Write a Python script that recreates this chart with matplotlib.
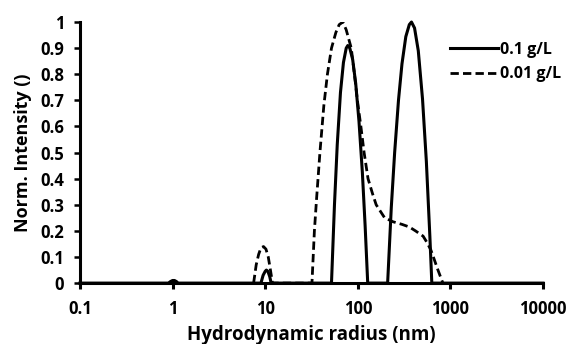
import numpy as np
import matplotlib as mpl
mpl.use('Agg')
import matplotlib.pyplot as plt

# radius (nm) and normalised intensity for 0.1 g/L (solid)
r_01 = [0.1, 0.25, 0.9, 0.95, 1.0, 1.05, 1.1, 1.15, 9.0, 9.5, 10.0, 10.3, 10.7, 11.2, 11.6,
        52, 56, 60, 65, 70, 75, 78, 82, 88, 95, 103, 112, 120, 128,
        210, 230, 250, 275, 300, 330, 360, 380, 410, 450, 500, 550, 600, 630, 10000]
i_01 = [0, 0, 0, 0.006, 0.01, 0.01, 0.006, 0, 0, 0.03, 0.045, 0.05, 0.045, 0.025, 0,
        0, 0.30, 0.53, 0.73, 0.845, 0.90, 0.91, 0.90, 0.857, 0.764, 0.62, 0.425, 0.22, 0,
        0, 0.29, 0.50, 0.70, 0.84, 0.944, 0.99, 1.0, 0.977, 0.89, 0.705, 0.466, 0.18, 0, 0]

# radius (nm) and normalised intensity for 0.01 g/L (dashed)
r_001 = [7.5, 8.0, 8.5, 9.0, 9.6, 10.2, 10.8, 11.4, 12.0,
         32, 34, 36, 39, 43, 47, 52, 58, 63, 69, 75, 85, 92, 99, 108, 117, 129, 145, 158,
         195, 240, 300, 360, 420, 507, 560, 615, 670, 725, 780, 830]
i_001 = [0, 0.07, 0.11, 0.135, 0.14, 0.13, 0.10, 0.05, 0,
         0, 0.2, 0.33, 0.5, 0.68, 0.8, 0.9, 0.96, 0.99, 1.0, 0.97, 0.9, 0.8, 0.7, 0.6, 0.5, 0.4,
         0.34, 0.3, 0.25, 0.235, 0.225, 0.215, 0.2, 0.18, 0.155, 0.127, 0.09, 0.055, 0.025, 0]

plt.rcParams['font.family'] = ['Open Sans', 'DejaVu Sans']
plt.rcParams['font.weight'] = 'bold'

fig = plt.figure(figsize=(5.71, 3.44), dpi=100)
ax = fig.add_axes([0.140, 0.177, 0.811, 0.759])

ax.plot(r_01, i_01, color='black', lw=2.2, label='0.1 g/L', clip_on=False)
ax.plot(r_001, i_001, color='black', lw=2.0, linestyle=(0, (3, 1.5)), label='0.01 g/L')

ax.set_xscale('log')
ax.set_xlim(0.1, 10000)
ax.set_ylim(0, 1)
ax.set_xticks([0.1, 1, 10, 100, 1000, 10000])
ax.set_xticklabels(['0.1', '1', '10', '100', '1000', '10000'])
ax.xaxis.set_minor_locator(mpl.ticker.NullLocator())
ax.set_yticks(np.arange(0, 1.01, 0.1))
ax.set_yticklabels(['0'] + ['%.1f' % v for v in np.arange(0.1, 0.95, 0.1)] + ['1'])

for s in ['top', 'right']:
    ax.spines[s].set_visible(False)
for s in ['left', 'bottom']:
    ax.spines[s].set_linewidth(2.2)

ax.tick_params(axis='y', direction='out', length=4.3, width=1.8, labelsize=12, pad=7)
ax.tick_params(axis='x', direction='out', length=4, width=2.2, labelsize=12, pad=8)

ax.set_xlabel('Hydrodynamic radius (nm)', fontsize=13.5, fontweight='bold', labelpad=5)
ax.set_ylabel('Norm. Intensity ()', fontsize=13, fontweight='bold', labelpad=6)

ax.legend(loc='upper right', bbox_to_anchor=(1.07, 0.98), frameon=False, fontsize=11.5,
          handlelength=3.0, handletextpad=0.1, labelspacing=0.55)

fig.savefig('out.png', dpi=100)
